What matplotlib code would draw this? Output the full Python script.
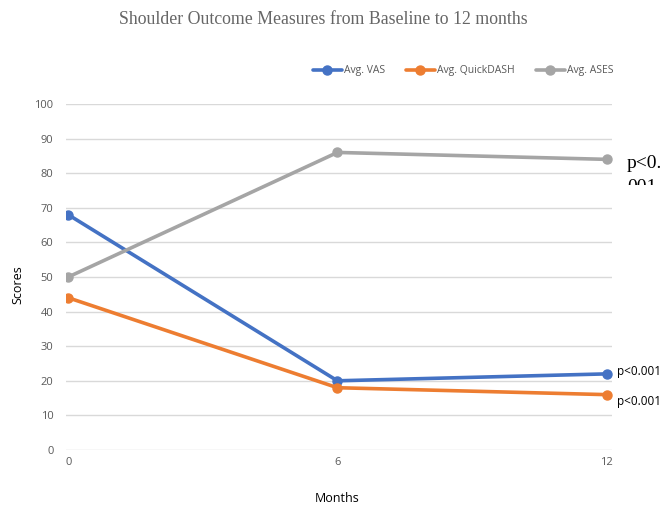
import matplotlib
matplotlib.use("Agg")
import matplotlib.pyplot as plt
from matplotlib.patches import Rectangle

months = [0, 6, 12]
vas = [68, 20, 22]
quickdash = [44, 18, 16]
ases = [50, 86, 84]
series_names = ["Avg. VAS", "Avg. QuickDASH", "Avg. ASES"]
colors = ["#4472C4", "#ED7D31", "#A5A5A5"]
p_labels = ["p<0.001", "p<0.001", "p<0.\n001"]
yticks = list(range(0, 101, 10))

sans = ["Open Sans", "DejaVu Sans"]
serif = ["Liberation Serif", "DejaVu Serif"]
fig = plt.figure(figsize=(6.7, 5.08), dpi=100)
ax = fig.add_axes([66/670, 58/508, 546/670, 346/508])

for vals, name, c in zip([vas, quickdash, ases], series_names, colors):
    ax.plot(months, vals, color=c, lw=2.6, marker="o", ms=6.5, label=name,
            solid_capstyle="round", zorder=3)

ax.set_xlim(-0.05, 12.12)
ax.set_ylim(0, 100)
ax.set_yticks(yticks)
ax.set_xticks(months)
ax.grid(axis="y", color="#D9D9D9", lw=1)
ax.set_axisbelow(True)
for s in ax.spines.values():
    s.set_visible(False)
ax.tick_params(length=0, colors="#595959", labelsize=8, pad=9)
for lab in ax.get_xticklabels() + ax.get_yticklabels():
    lab.set_family(sans)
ax.tick_params(axis="x", pad=5)

fig.text(18/670, 1-285/508, "Scores", rotation=90, ha="center", va="center",
         fontsize=9, family=sans, color="#000000")
fig.text(337/670, 1-498/508, "Months", ha="center", va="center",
         fontsize=9, family=sans, color="#000000")
fig.text(323/670, 1-20/508, "Shoulder Outcome Measures from Baseline to 12 months",
         ha="center", va="center", fontsize=12.8, family=serif, color="#666666")

leg = ax.legend(loc="center", bbox_to_anchor=(463/670, 1-71/508), bbox_transform=fig.transFigure,
                ncol=3, frameon=False, handlelength=2.8, columnspacing=2.0,
                handletextpad=0.2, prop={"family": sans, "size": 7.5})
for t in leg.get_texts():
    t.set_color("#595959")

# p-value annotations
fig.text(617/670, 1-371/508, p_labels[0], ha="left", va="center", fontsize=8.5,
         family=sans, color="#000000")
fig.text(617/670, 1-401/508, p_labels[1], ha="left", va="center", fontsize=8.5,
         family=sans, color="#000000")
ases_lines = p_labels[2].split("\n")
fig.text(627/670, 1-168/508, ases_lines[0], ha="left", va="baseline", fontsize=14,
         family=serif, color="#000000", zorder=5)
fig.text(627/670, 1-192/508, ases_lines[1], ha="left", va="baseline", fontsize=14,
         family=serif, color="#000000", zorder=5)
fig.add_artist(Rectangle((620/670, 0.40), 50/670, (1-185/508) - 0.40,
                         transform=fig.transFigure, facecolor="white",
                         edgecolor="none", zorder=10))

fig.savefig("out.png", dpi=100)
